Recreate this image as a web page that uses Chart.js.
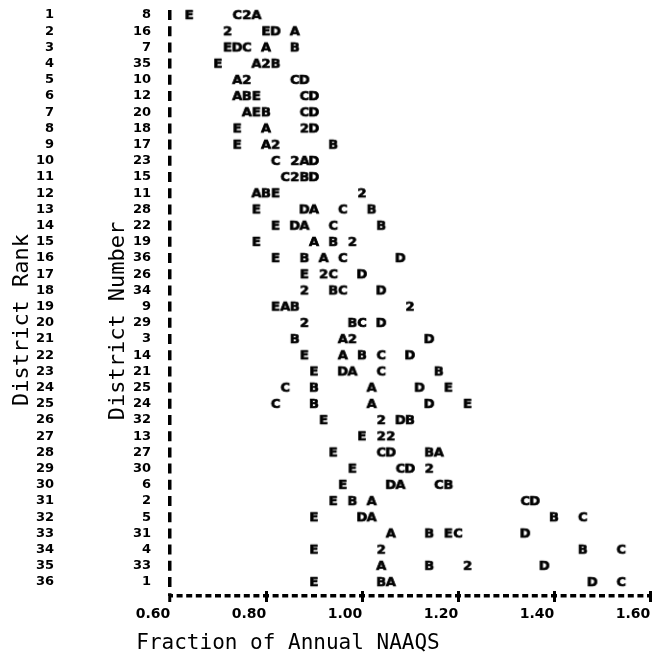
<!DOCTYPE html>
<html>
<head>
<meta charset="utf-8">
<script src="https://cdn.jsdelivr.net/npm/chart.js@4/dist/chart.umd.min.js"></script>
<style>
html,body{margin:0;padding:0;background:#fff;}
#wrap{width:657px;height:668px;}
</style>
</head>
<body>
<div id="wrap"><canvas id="c" width="657" height="668"></canvas></div>
<script>
// ---- data ----
const ranks = [1,2,3,4,5,6,7,8,9,10,11,12,13,14,15,16,17,18,19,20,21,22,23,24,25,26,27,28,29,30,31,32,33,34,35,36];
const districtNumbers = [8,16,7,35,10,12,20,18,17,23,15,11,28,22,19,36,26,34,9,29,3,14,21,25,24,32,13,27,30,6,2,5,31,4,33,1];
const xTickValues = [0.6,0.8,1.0,1.2,1.4,1.6];
const xTickLabels = ['0.60','0.80','1.00','1.20','1.40','1.60'];

const seriesA = [0.78,0.86,0.80,0.78,0.74,0.74,0.76,0.80,0.80,0.88,null,0.78,0.90,0.88,0.90,0.92,null,null,0.84,null,0.96,0.96,0.98,1.02,1.02,null,null,1.16,null,1.08,1.02,1.02,1.06,null,1.04,1.06];
const seriesB = [null,null,0.86,0.82,null,0.76,0.80,null,0.94,null,0.88,0.80,1.02,1.04,0.94,0.88,null,0.94,0.86,0.98,0.86,1.00,1.16,0.90,0.90,1.10,null,1.14,null,1.18,0.98,1.40,1.14,1.46,1.14,1.04];
const seriesC = [0.74,null,0.76,null,0.86,0.88,0.88,null,null,0.82,0.84,null,0.96,0.94,null,0.96,0.94,0.96,null,1.00,null,1.04,1.04,0.84,0.82,null,null,1.04,1.08,1.16,1.34,1.46,1.20,1.54,null,1.54];
const seriesD = [null,0.82,0.74,null,0.88,0.90,0.90,0.90,null,0.90,0.90,null,0.88,0.86,null,1.08,1.00,1.04,null,1.04,1.14,1.10,0.96,1.12,1.14,1.08,null,1.06,1.10,1.06,1.36,1.00,1.34,null,1.38,1.48];
const seriesE = [0.64,0.80,0.72,0.70,null,0.78,0.78,0.74,0.74,null,null,0.82,0.78,0.82,0.78,0.82,0.88,null,0.82,null,null,0.88,0.90,1.18,1.22,0.92,1.00,0.94,0.98,0.96,0.94,0.90,1.18,0.90,null,0.90];
// "2" = two coincident symbols
const seriesTwo = [0.76,0.72,null,0.80,0.76,null,null,0.88,0.82,0.86,0.86,1.00,null,null,0.98,null,0.92,0.88,1.10,0.88,0.98,null,null,null,null,1.04,1.04,null,1.14,null,null,null,null,1.04,1.22,null];
const seriesTwoExtra = [null,null,null,null,null,null,null,null,null,null,null,null,null,null,null,null,null,null,null,null,null,null,null,null,null,null,1.06,null,null,null,null,null,null,null,null,null];

// ---- axis settings ----
const X_MIN = 0.6, X_MAX = 1.6;
const Y_MIN = 0.5, Y_MAX = 36.86;

// ---- helpers ----
function glyph(ch){
  const cv = document.createElement('canvas');
  cv.width = 14; cv.height = 16;
  const g = cv.getContext('2d');
  g.fillStyle = '#000';
  g.strokeStyle = '#000';
  g.lineWidth = 0.7;
  g.font = 'bold 13px "DejaVu Sans"';
  g.textAlign = 'center';
  g.textBaseline = 'middle';
  g.fillText(ch, 7, 8.5);
  g.strokeText(ch, 7, 8.5);
  return cv;
}
function toPoints(){
  const pts = [];
  for (const arr of arguments) {
    arr.forEach((v,i) => { if (v !== null) pts.push({x: v, y: ranks[i]}); });
  }
  return pts;
}
function ds(label, ch, ...arrs){
  return {label, data: toPoints(...arrs), pointStyle: glyph(ch), pointRadius: 4, showLine: false};
}

const axisTitles = {
  id: 'axisTitles',
  afterDraw(chart){
    const ctx = chart.ctx;
    ctx.save();
    ctx.fillStyle = '#000';
    ctx.textAlign = 'center';
    ctx.textBaseline = 'middle';
    ctx.font = '22px "DejaVu Sans Mono"';
    ctx.save(); ctx.translate(22, 320); ctx.rotate(-Math.PI/2); ctx.fillText('District Rank', 0, 0); ctx.restore();
    ctx.save(); ctx.translate(118, 321); ctx.rotate(-Math.PI/2); ctx.fillText('District Number', 0, 0); ctx.restore();
    ctx.font = '21px "DejaVu Sans Mono"';
    ctx.fillText('Fraction of Annual NAAQS', 288, 644);
    ctx.restore();
  }
};

const tickFont = {family: 'DejaVu Sans', weight: 'bold', size: 13};
const CLEAR = 'rgba(0,0,0,0)';

new Chart(document.getElementById('c'), {
  type: 'scatter',
  data: {
    datasets: [
      ds('A','A',seriesA),
      ds('B','B',seriesB),
      ds('C','C',seriesC),
      ds('D','D',seriesD),
      ds('E','E',seriesE),
      ds('2','2',seriesTwo,seriesTwoExtra)
    ]
  },
  options: {
    responsive: false,
    animation: false,
    devicePixelRatio: 1,
    layout: {padding: {left: 0, right: 7, top: 7, bottom: 0}},
    plugins: {legend: {display: false}, tooltip: {enabled: false}},
    scales: {
      x: {
        type: 'linear', position: 'bottom', min: X_MIN, max: X_MAX,
        afterBuildTicks: (s) => { s.ticks = xTickValues.map(v => ({value: v})); },
        afterFit: (s) => { s.height = 72; s.paddingLeft = 0; s.paddingRight = 0; },
        ticks: {
          callback: (v) => xTickLabels[xTickValues.findIndex(t => Math.abs(t - v) < 1e-9)],
          font: {family: 'DejaVu Sans', weight: 'bold', size: 14},
          color: '#000', padding: 4, labelOffset: -17, maxRotation: 0, autoSkip: false
        },
        // first x tick's grid line = dashed "!" axis; other ticks show only a short stub (the "|" marks)
        grid: {
          display: true, drawOnChartArea: true, drawTicks: true, tickLength: 6,
          color: '#000',
          lineWidth: (c) => c.index === 0 ? 3.5 : 3,
          tickColor: '#000', tickWidth: 3
        },
        border: {
          display: false,
          dash: (c) => c.index === 0 ? [10, 6.2] : [0, 584, 6, 100],
          dashOffset: (c) => c.index === 0 ? 13.2 : 0
        }
      },
      yRank: {
        type: 'linear', position: 'left', reverse: true, min: Y_MIN, max: Y_MAX, weight: 1,
        afterBuildTicks: (s) => { s.ticks = ranks.map(v => ({value: v})); },
        afterFit: (s) => { s.width = 60; s.paddingTop = 0; s.paddingBottom = 0; },
        ticks: {callback: (v) => String(v), font: tickFont, color: '#000', padding: 6, autoSkip: false},
        grid: {display: false, drawTicks: false},
        border: {display: false}
      },
      y: {
        type: 'linear', position: 'left', reverse: true, min: Y_MIN, max: Y_MAX, weight: 0,
        // extra tick at the bottom edge carries the dashed horizontal axis line
        afterBuildTicks: (s) => { s.ticks = ranks.map(v => ({value: v})).concat([{value: Y_MAX}]); },
        afterFit: (s) => { s.width = 110; s.paddingTop = 0; s.paddingBottom = 0; },
        ticks: {
          callback: (v) => { const i = ranks.indexOf(v); return i < 0 ? '' : String(districtNumbers[i]); },
          font: tickFont, color: '#000', padding: 19, autoSkip: false
        },
        grid: {
          display: true, drawOnChartArea: true, drawTicks: false,
          color: (c) => (c.tick && c.tick.value === Y_MAX) ? '#000' : CLEAR,
          lineWidth: (c) => (c.tick && c.tick.value === Y_MAX) ? 3.5 : 0
        },
        border: {display: false, dash: [6, 3.6], dashOffset: 3.0}
      }
    }
  },
  plugins: [axisTitles]
});
</script>
</body>
</html>
